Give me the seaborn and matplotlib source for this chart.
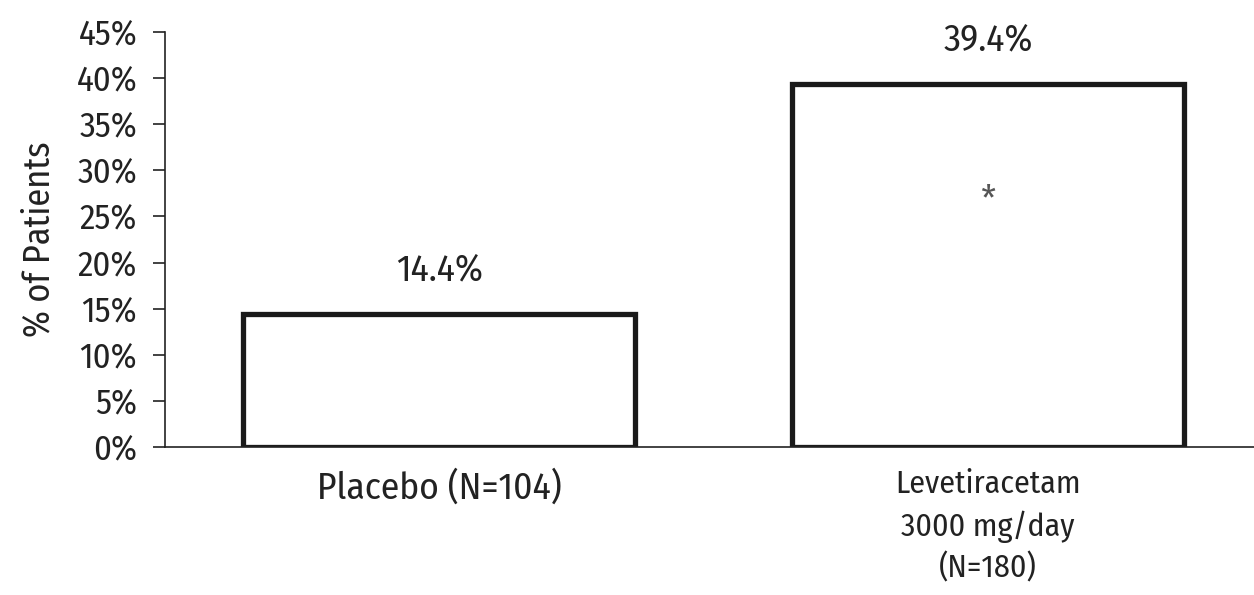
import matplotlib
matplotlib.use('Agg')
import matplotlib.pyplot as plt
import seaborn as sns
import pandas as pd

groups = ['Placebo (N=104)', 'Levetiracetam\n3000 mg/day\n(N=180)']
values = [14.4, 39.4]
labels = ['14.4%', '39.4%']
y_ticks = [0, 5, 10, 15, 20, 25, 30, 35, 40, 45]

sns.set_style('white')
plt.rcParams['font.family'] = ['Fira Sans Condensed', 'DejaVu Sans']

df = pd.DataFrame({'group': groups, 'pct': values})
ink = '#222222'

fig = plt.figure(figsize=(12.54, 5.95), dpi=100)
ax = fig.add_axes([0.1316, 0.2487, 0.8684, 0.6975])

sns.barplot(data=df, x='group', y='pct', ax=ax, color='white',
            edgecolor='#1a1a1a', linewidth=3.8, width=0.714, saturation=1)

for bar, lab in zip(ax.patches, labels):
    ax.annotate(lab, (bar.get_x() + bar.get_width() / 2, bar.get_height()),
                xytext=(0, 19), textcoords='offset points',
                ha='center', va='bottom', fontsize=27, color=ink)

# significance marker
ax.text(1, 25.7, '*', ha='center', va='baseline', fontsize=27, color='#555555')

ax.set_xlim(-0.5, 1.485)
ax.set_ylim(0, 45)
ax.set_yticks(y_ticks)
ax.set_yticklabels([f'{t}%' for t in y_ticks])
ax.set_xlabel('')
ax.set_ylabel('% of Patients', fontsize=26, color=ink, labelpad=14)

sns.despine(ax=ax, top=True, right=True)
for s in ['left', 'bottom']:
    ax.spines[s].set_linewidth(1.2)
    ax.spines[s].set_color(ink)

ax.tick_params(axis='y', which='major', direction='out', length=9, width=1.2,
               color=ink, labelsize=25, labelcolor=ink, left=True, pad=11)
ax.tick_params(axis='x', length=0, labelsize=23, labelcolor=ink, pad=16)
xt = ax.get_xticklabels()
xt[0].set_fontsize(27)
for t in xt:
    t.set_linespacing(1.42)

fig.savefig('out.png', dpi=100)
